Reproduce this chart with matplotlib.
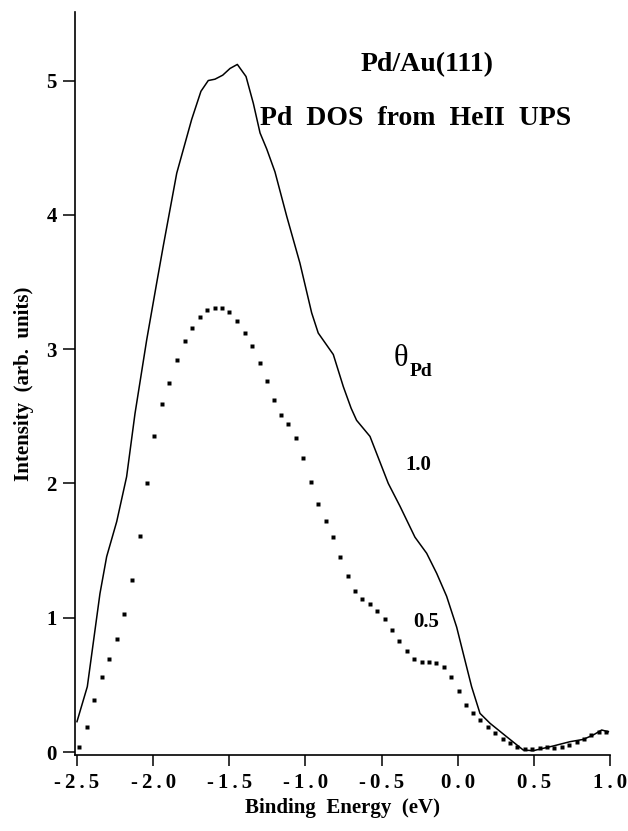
import numpy as np
import matplotlib
matplotlib.use('Agg')
import matplotlib.pyplot as plt

# Font setup: bold Times-like serif throughout
plt.rcParams['font.family'] = ['Liberation Serif', 'DejaVu Serif']
plt.rcParams['font.weight'] = 'bold'

# Pd coverage 1.0 (solid curve)
energy_10 = [-2.500, -2.432, -2.349, -2.305, -2.239, -2.174, -2.119, -2.042, -1.977,
             -1.933, -1.845, -1.747, -1.686, -1.638, -1.594, -1.543, -1.495, -1.447,
             -1.390, -1.342, -1.298, -1.254, -1.200, -1.123, -1.036, -0.959, -0.916,
             -0.817, -0.751, -0.700, -0.664, -0.576, -0.456, -0.379, -0.281, -0.204,
             -0.138, -0.073, -0.007, 0.036, 0.091, 0.146, 0.212, 0.321, 0.430,
             0.496, 0.627, 0.737, 0.824, 0.890, 0.945, 0.989]
dos_10 = [0.226, 0.487, 1.180, 1.455, 1.716, 2.050, 2.520, 3.070, 3.490,
          3.770, 4.310, 4.710, 4.920, 5.000, 5.010, 5.040, 5.090, 5.120,
          5.030, 4.830, 4.610, 4.490, 4.320, 3.990, 3.640, 3.270, 3.120,
          2.960, 2.720, 2.560, 2.470, 2.350, 2.000, 1.830, 1.600, 1.480,
          1.330, 1.160, 0.930, 0.735, 0.487, 0.288, 0.214, 0.114, 0.015,
          0.010, 0.045, 0.077, 0.094, 0.127, 0.164, 0.151]

# Pd coverage 0.5 (dotted curve)
energy_05 = [-2.487, -2.436, -2.386, -2.338, -2.290, -2.239, -2.189, -2.139, -2.088,
             -2.040, -1.992, -1.944, -1.894, -1.843, -1.793, -1.743, -1.692, -1.644,
             -1.596, -1.548, -1.500, -1.449, -1.399, -1.351, -1.300, -1.252, -1.207,
             -1.159, -1.113, -1.062, -1.014, -0.966, -0.916, -0.867, -0.819, -0.771,
             -0.723, -0.675, -0.627, -0.576, -0.528, -0.478, -0.432, -0.384, -0.335,
             -0.287, -0.237, -0.189, -0.141, -0.092, -0.044, 0.006, 0.052, 0.100,
             0.148, 0.199, 0.247, 0.295, 0.343, 0.391, 0.440, 0.490, 0.538,
             0.586, 0.634, 0.682, 0.732, 0.781, 0.829, 0.877, 0.925, 0.973]
dos_05 = [0.040, 0.190, 0.390, 0.560, 0.690, 0.840, 1.030, 1.280, 1.610,
          2.000, 2.350, 2.590, 2.750, 2.920, 3.060, 3.160, 3.240, 3.290,
          3.310, 3.310, 3.280, 3.210, 3.120, 3.020, 2.900, 2.760, 2.620,
          2.510, 2.440, 2.340, 2.190, 2.010, 1.850, 1.720, 1.600, 1.450,
          1.310, 1.200, 1.140, 1.100, 1.050, 0.990, 0.910, 0.830, 0.750,
          0.690, 0.670, 0.670, 0.665, 0.630, 0.560, 0.455, 0.350, 0.290,
          0.236, 0.190, 0.140, 0.094, 0.065, 0.040, 0.025, 0.020, 0.027,
          0.035, 0.030, 0.035, 0.052, 0.077, 0.100, 0.127, 0.147, 0.151]

xticks = [-2.5, -2.0, -1.5, -1.0, -0.5, 0.0, 0.5, 1.0]
yticks = [0, 1, 2, 3, 4, 5]

fig = plt.figure(figsize=(6.28, 8.31), dpi=100)
ax = fig.add_axes([0.1194, 0.0918, 0.852, 0.8937])

ax.plot(energy_10, dos_10, color='black', lw=1.1)
ax.plot(energy_05, dos_05, ls='none', marker='s', ms=2.4, color='black', mec='none')

ax.set_xlim(-2.513, 1.0)
ax.set_ylim(-0.02, 5.51)

for side in ['top', 'right']:
    ax.spines[side].set_visible(False)
for side in ['left', 'bottom']:
    ax.spines[side].set_linewidth(1.2)

# spaced-out tick labels
sp = '\u2009'
ax.set_xticks(xticks)
ax.set_xticklabels([sp.join('%.1f' % t) for t in xticks])
ax.set_yticks(yticks)
ax.set_yticklabels([str(t) for t in yticks])
ax.tick_params(axis='x', direction='out', length=8, width=1.1, pad=5, labelsize=15)
ax.tick_params(axis='y', direction='out', length=9, width=1.1, pad=4, labelsize=15)

ax.set_xlabel('Binding  Energy  (eV)', fontsize=15, fontweight='bold', labelpad=4)
ax.set_ylabel('Intensity  (arb.  units)', fontsize=15, fontweight='bold', labelpad=9)

ax.text(-0.202, 5.12, 'Pd/Au(111)', fontsize=20, fontweight='bold', ha='center', va='center')
ax.text(-0.274, 4.72, 'Pd  DOS  from  HeII  UPS', fontsize=20, fontweight='bold',
        ha='center', va='center')
# coverage label: upright theta with bold subscript
ax.text(-0.325, 2.93, '\u03b8', fontsize=22, fontweight='normal', ha='right', va='center')
ax.text(-0.315, 2.83, 'Pd', fontsize=14, fontweight='bold', ha='left', va='center')
ax.text(-0.261, 2.14, '1.0', fontsize=15, fontweight='bold', ha='center', va='center')
ax.text(-0.209, 0.97, '0.5', fontsize=15, fontweight='bold', ha='center', va='center')

fig.savefig('out.png', dpi=100)
